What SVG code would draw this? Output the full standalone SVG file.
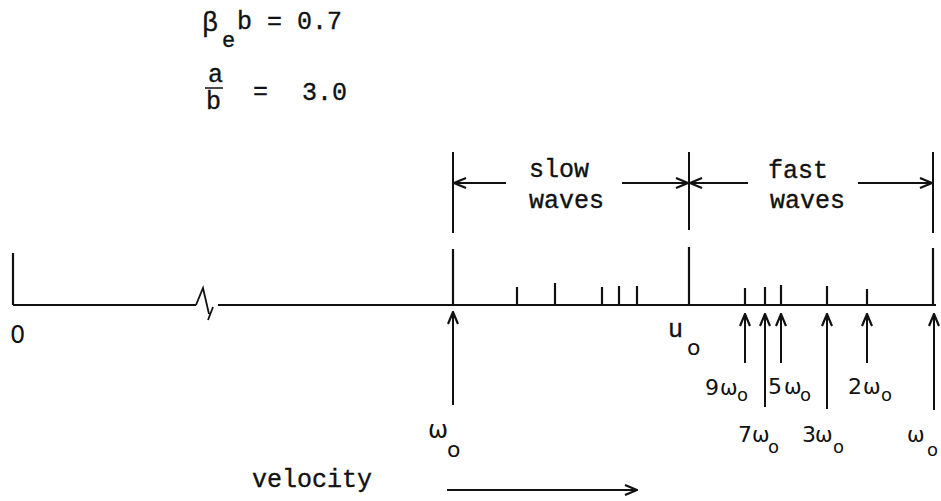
<svg xmlns="http://www.w3.org/2000/svg" width="941" height="501" viewBox="0 0 941 501">
<style>
.mono{font-family:"Liberation Mono","DejaVu Sans Mono",monospace;font-size:25px;fill:#111;stroke:#111;stroke-width:0.35}
.sym{font-family:"DejaVu Sans","Liberation Sans",sans-serif;fill:#111}
.ln{stroke:#111;stroke-width:2;fill:none;stroke-linecap:butt}
.ax{stroke:#111;stroke-width:1.8;fill:none}
.tk{stroke:#111;stroke-width:2.2;fill:none}
</style>
<defs>
<marker id="ah" viewBox="0 0 14 12" refX="13" refY="6" markerWidth="14" markerHeight="12" markerUnits="userSpaceOnUse" orient="auto">
<path d="M1,1 L13,6 L1,11" fill="none" stroke="#111" stroke-width="2.2"/>
</marker>
</defs>
<rect width="941" height="501" fill="#fff"/>

<g id="params">
<text class="mono"><tspan x="202" y="31" font-size="27">β</tspan><tspan x="222" y="47" font-size="22">e</tspan><tspan x="237" y="29" xml:space="preserve">b = 0.7</tspan></text>
<text class="mono" font-size="21"><tspan x="208" y="82">a</tspan><tspan x="206" y="109">b</tspan></text>
<line x1="205" y1="88" x2="223" y2="88" stroke="#111" stroke-width="1.5"/>
<text class="mono" x="253" y="99">=</text>
<text class="mono" x="302" y="100">3.0</text>
</g>

<g id="regions">
<line class="ln" x1="453" y1="152" x2="453" y2="233"/>
<line class="ln" x1="689" y1="152" x2="689" y2="230"/>
<line class="ln" x1="933" y1="152" x2="933" y2="233"/>
<text class="mono" x="529" y="177">slow</text>
<text class="mono" x="529" y="208">waves</text>
<text class="mono" x="768" y="178">fast</text>
<text class="mono" x="770" y="208">waves</text>
</g>

<g id="connectors">
<line class="ln" x1="506" y1="183" x2="454" y2="183" marker-end="url(#ah)"/>
<line class="ln" x1="622" y1="183" x2="688" y2="183" marker-end="url(#ah)"/>
<line class="ln" x1="748" y1="183" x2="690" y2="183" marker-end="url(#ah)"/>
<line class="ln" x1="858" y1="183" x2="932" y2="183" marker-end="url(#ah)"/>
<line class="ln" x1="453" y1="405" x2="453" y2="312" marker-end="url(#ah)"/>
<line class="ln" x1="745" y1="363" x2="745" y2="314" marker-end="url(#ah)"/>
<line class="ln" x1="765" y1="407" x2="765" y2="314" marker-end="url(#ah)"/>
<line class="ln" x1="781" y1="363" x2="781" y2="314" marker-end="url(#ah)"/>
<line class="ln" x1="827" y1="409" x2="827" y2="314" marker-end="url(#ah)"/>
<line class="ln" x1="867" y1="363" x2="867" y2="314" marker-end="url(#ah)"/>
<line class="ln" x1="934" y1="410" x2="934" y2="314" marker-end="url(#ah)"/>
<line class="ln" x1="447" y1="490" x2="637" y2="490" marker-end="url(#ah)"/>
</g>

<g id="axis">
<path class="ax" d="M13,305 H196 M196,305 L203,288 L209,314 M208,320 L213,307 M218,305 H936"/>
<line class="tk" x1="13" y1="253" x2="13" y2="305"/>
<line class="tk" x1="453" y1="249" x2="453" y2="305"/>
<line class="tk" x1="689" y1="247" x2="689" y2="305"/>
<line class="tk" x1="933" y1="248" x2="933" y2="305"/>
<line class="tk" x1="517" y1="287" x2="517" y2="305"/>
<line class="tk" x1="555" y1="283" x2="555" y2="305"/>
<line class="tk" x1="602" y1="287" x2="602" y2="305"/>
<line class="tk" x1="619" y1="286" x2="619" y2="305"/>
<line class="tk" x1="637" y1="286" x2="637" y2="305"/>
<line class="tk" x1="745" y1="288" x2="745" y2="305"/>
<line class="tk" x1="765" y1="287" x2="765" y2="305"/>
<line class="tk" x1="781" y1="285" x2="781" y2="305"/>
<line class="tk" x1="827" y1="286" x2="827" y2="305"/>
<line class="tk" x1="867" y1="289" x2="867" y2="305"/>
</g>

<g id="labels">
<text class="sym" x="10" y="343" font-size="24">0</text>
<text class="mono"><tspan x="668" y="337">u</tspan><tspan class="sym" x="687" y="355" font-size="22" stroke="none">o</tspan></text>

<text class="sym" font-size="24"><tspan x="428" y="438">ω</tspan><tspan x="447" y="457" font-size="22">o</tspan></text>

<text class="sym" font-size="22"><tspan x="705" y="395">9</tspan><tspan x="720" y="395" font-size="21">ω</tspan><tspan x="737" y="401" font-size="18">o</tspan></text>
<text class="sym" font-size="22"><tspan x="768" y="394">5</tspan><tspan x="784" y="394" font-size="21">ω</tspan><tspan x="800" y="401" font-size="18">o</tspan></text>
<text class="sym" font-size="22"><tspan x="848" y="394">2</tspan><tspan x="863" y="394" font-size="21">ω</tspan><tspan x="881" y="401" font-size="18">o</tspan></text>
<text class="sym" font-size="22"><tspan x="738" y="442">7</tspan><tspan x="752" y="442" font-size="21">ω</tspan><tspan x="768" y="453" font-size="18">o</tspan></text>
<text class="sym" font-size="22"><tspan x="802" y="442">3</tspan><tspan x="815" y="442" font-size="21">ω</tspan><tspan x="833" y="453" font-size="18">o</tspan></text>
<text class="sym" font-size="21"><tspan x="907" y="442">ω</tspan><tspan x="927" y="456" font-size="18">o</tspan></text>

<text class="mono" x="252" y="487">velocity</text>
</g>
</svg>
